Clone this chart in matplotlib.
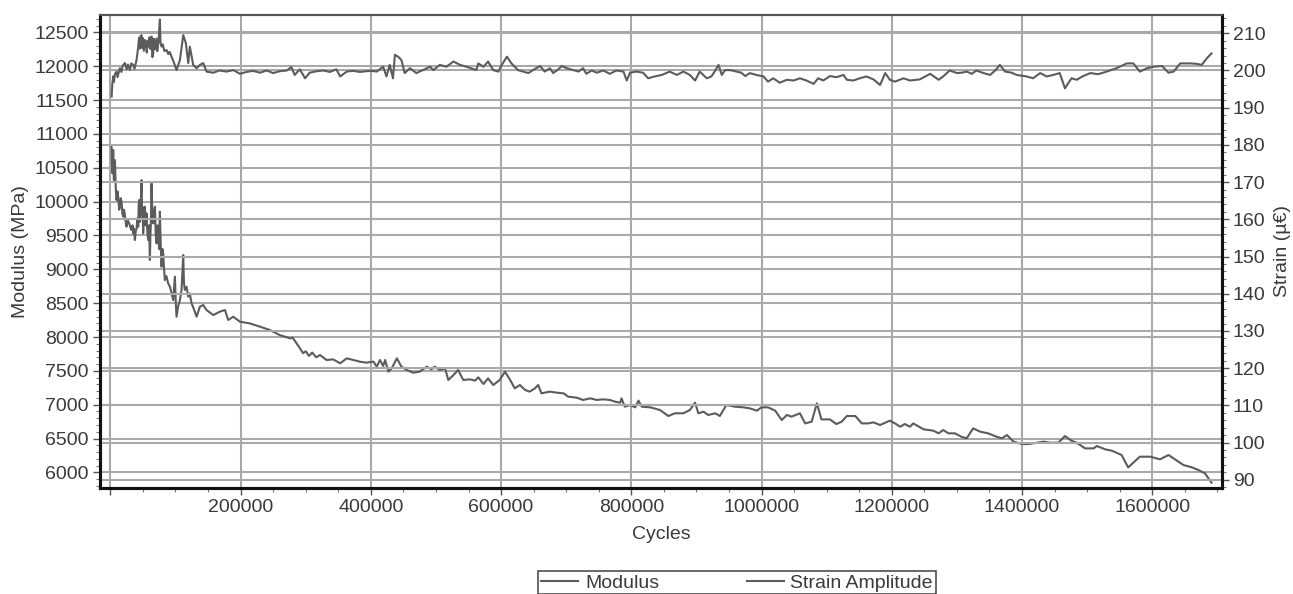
import matplotlib as mpl
mpl.use('Agg')

import matplotlib.pyplot as plt
from matplotlib.ticker import MultipleLocator, FuncFormatter

plt.rcParams['font.family'] = ['Liberation Sans', 'DejaVu Sans']

line_color = "#5c5c5c"
grid_color = "#a9a9a9"
text_color = "#3a3a3a"

# Strain amplitude (right axis)
strain_cycles = [
  2000, 3000, 4400, 5500, 7000, 9500, 11000, 14600, 17000, 19000,
  22300, 25000, 27000, 30000, 32000, 35100, 37000, 40200, 42800, 44000,
  45000, 46500, 47900, 49000, 50000, 51500, 53000, 54500, 56000, 57000,
  58100, 60000, 61500, 63200, 64500, 65800, 67000, 68500, 70900, 72000,
  74000, 76000, 77000, 78600, 80500, 83000, 86300, 89000, 91000, 94000,
  97000, 101600, 106800, 111900, 116000, 119600, 122100, 127200, 132400, 137500,
  142600, 147700,
  158000, 168000, 178000, 189000, 199000, 209000, 219000, 230000, 240000, 250000,
  260000, 271000, 278000, 283000, 291000, 299000, 306000, 317000, 327000, 337000,
  347000, 353000, 363000, 373000, 383000, 393000, 401000, 409000, 419000, 424000,
  429000, 434000, 437000, 442000, 447000, 452000, 460000, 470000, 480000, 491000,
  496000, 506000, 516000, 527000, 537000, 547000, 562000, 565000, 573000, 580000,
  588000, 596000, 601000, 609000, 616000, 626000, 634000, 642000, 649000, 660000,
  667000, 675000, 680000, 688000, 693000, 701000, 711000, 719000, 726000, 731000,
  739000, 747000, 757000, 767000, 777000, 788000, 793000, 798000, 808000, 818000,
  826000, 836000, 847000, 859000, 870000, 880000, 890000, 898000, 905000, 916000,
  923000, 928000, 934000, 939000, 944000, 952000, 962000, 969000, 975000, 982000,
  992000, 1003000, 1010000, 1018000, 1028000, 1039000, 1049000, 1059000, 1069000, 1080000,
  1087000, 1095000, 1105000, 1115000, 1126000, 1131000, 1141000, 1151000, 1161000, 1172000,
  1182000, 1190000, 1197000, 1205000, 1218000, 1228000, 1243000, 1259000, 1272000, 1279000,
  1289000, 1300000, 1307000, 1315000, 1323000, 1330000, 1341000, 1351000, 1359000, 1366000,
  1374000, 1384000, 1392000, 1407000, 1417000, 1428000, 1438000, 1448000, 1458000, 1466000,
  1476000, 1484000, 1494000, 1505000, 1517000, 1530000, 1545000, 1561000, 1571000, 1581000,
  1592000, 1602000, 1615000, 1625000, 1633000, 1643000, 1658000, 1668000, 1676000, 1684000,
  1691000]
strain = [
  193.0, 196.5, 198.4, 196.9, 199.0, 199.7, 198.2, 200.6, 199.6, 201.3,
  202.0, 200.3, 201.6, 200.1, 201.9, 201.5, 200.4, 202.8, 206.4, 208.8,
  205.9, 209.3, 209.5, 206.0, 208.7, 205.3, 208.2, 207.5, 204.8, 208.0,
  206.4, 208.9, 205.8, 209.1, 203.6, 204.6, 208.5, 205.7, 208.6, 205.2,
  207.8, 213.7, 207.5, 206.4, 207.0, 205.2, 205.5, 204.4, 205.0, 203.7,
  202.4, 200.1, 202.8, 209.5, 207.3, 202.0, 206.4, 201.5, 200.6, 201.5,
  202.0, 199.7,
  199.4, 200.0, 199.7, 200.1, 199.1, 199.6, 199.9, 199.4, 200.0, 199.3,
  199.8, 200.0, 200.9, 198.8, 200.3, 197.9, 199.4, 199.8, 200.0, 199.6,
  200.3, 198.4, 199.7, 199.9, 199.6, 199.8, 199.9, 199.7, 201.0, 198.4,
  201.5, 197.9, 204.2, 203.7, 202.8, 199.3, 200.6, 199.3, 200.1, 201.0,
  200.1, 201.5, 201.0, 202.4, 201.5, 201.0, 200.1, 201.9, 201.0, 202.4,
  200.1, 199.7, 201.5, 203.7, 201.9, 200.1, 199.7, 199.3, 200.1, 201.2,
  199.7, 200.6, 199.3, 200.3, 201.2, 200.6, 200.1, 199.7, 200.6, 199.1,
  200.0, 199.4, 200.0, 199.1, 200.0, 199.7, 197.3, 199.4, 199.7, 199.4,
  197.9, 198.4, 198.8, 199.7, 198.8, 199.7, 198.8, 197.3, 199.7, 197.9,
  198.4, 199.7, 201.5, 198.8, 200.1, 200.1, 199.7, 199.4, 198.5, 199.3,
  198.8, 198.4, 197.0, 197.9, 196.7, 197.5, 197.3, 197.9, 197.3, 196.4,
  197.9, 197.3, 198.5, 198.2, 198.8, 197.5, 197.3, 197.9, 198.4, 197.6,
  196.1, 199.3, 197.5, 197.0, 197.9, 197.3, 197.6, 199.1, 197.5, 198.4,
  200.0, 199.3, 199.4, 199.7, 199.1, 200.0, 199.3, 198.8, 200.0, 201.5,
  199.7, 199.4, 198.8, 198.4, 197.9, 199.3, 198.4, 198.8, 199.3, 195.2,
  197.9, 197.5, 198.5, 199.3, 199.0, 199.7, 200.6, 201.9, 201.9, 199.7,
  200.6, 201.0, 201.2, 199.4, 199.7, 201.9, 201.9, 201.8, 201.5, 203.3,
  204.6]

# Modulus (left axis)
modulus_cycles = [
  1800, 2500, 3300, 4400, 5400, 6200, 7000, 8400, 9500, 11000,
  12000, 13500, 14600, 16000, 17200, 18500, 19700, 21000, 22300, 23500,
  24800, 27000, 29000, 31000, 32500, 34000, 35000, 36300, 37600, 39000,
  40200, 41500, 42800, 43500, 44300, 45300, 46300, 47100, 47900, 48600,
  49400, 50400, 51700, 53000, 54200, 55500, 56800, 58100, 59400, 60700,
  61500, 62200, 63200, 64500, 65800, 67000, 68400, 69700, 71000, 72300,
  73500, 74800, 76000, 77600, 78600, 80000, 81200, 82500, 83700, 86000,
  88800, 91400, 94000, 96500, 99100, 100500, 101600, 104000, 106800, 109300,
  111900, 113000, 114400, 117000, 119600, 122000, 124700, 128000, 132400, 137500,
  142600, 147700, 158000, 168000, 176000, 181000,
  188700, 199000, 214000, 230000, 245000, 255000, 260000, 276000, 280000, 290000,
  296000, 300000, 305000, 310000, 316000, 322000, 332000, 342000, 353000, 363000,
  373000, 383000, 393000, 404000, 409000, 414000, 419000, 422000, 427000, 432000,
  440000, 447000, 455000, 465000, 475000, 486000, 493000, 498000, 506000, 514000,
  519000, 527000, 534000, 542000, 552000, 560000, 565000, 573000, 580000, 588000,
  598000, 606000, 614000, 621000, 629000, 637000, 644000, 652000, 657000, 662000,
  675000, 685000, 696000, 703000, 716000, 726000, 737000, 747000, 757000, 767000,
  775000, 783000, 785000, 790000, 798000, 806000, 811000, 816000, 829000, 844000,
  857000, 867000, 880000, 890000, 898000, 903000, 911000, 918000, 929000, 936000,
  946000, 959000, 972000, 982000, 993000, 1000000, 1010000, 1021000, 1031000, 1039000,
  1046000, 1059000, 1067000, 1077000, 1085000, 1092000, 1105000, 1115000, 1123000, 1131000,
  1144000, 1154000, 1164000, 1172000, 1182000, 1197000, 1205000, 1213000, 1220000, 1228000,
  1233000, 1249000, 1264000, 1272000, 1279000, 1287000, 1297000, 1307000, 1315000, 1325000,
  1336000, 1348000, 1361000, 1369000, 1377000, 1387000, 1400000, 1410000, 1423000, 1433000,
  1443000, 1456000, 1466000, 1476000, 1484000, 1497000, 1510000, 1515000, 1528000, 1538000,
  1545000, 1553000, 1563000, 1581000, 1597000, 1612000, 1625000, 1635000, 1648000, 1661000,
  1671000, 1681000, 1691000]
modulus = [
  10811, 10500, 10417, 10761, 10318, 10550, 10614, 10170, 10023, 10150,
  10072, 9880, 9924, 10050, 9998, 9820, 9777, 9880, 9801, 9700,
  9629, 9720, 9678, 9610, 9580, 9650, 9531, 9600, 9432, 9560,
  9604, 9750, 9629, 9950, 10023, 9700, 9777, 10100, 10318, 9850,
  9924, 9531, 9800, 9924, 9650, 9826, 9550, 9432, 9650, 9137,
  9500, 9678, 10269, 9800, 9678, 9850, 9924, 9500, 9383, 9650,
  9531, 9300, 9851, 9284, 9038, 9300, 9235, 9000, 8841, 8900,
  8792, 8743, 8650, 8546, 8891, 8500, 8300, 8450, 8546, 8694,
  9211, 8800, 8694, 8743, 8595, 8644, 8497, 8420, 8300, 8448,
  8472, 8398, 8324, 8374, 8398, 8251,
  8300, 8226, 8201, 8152, 8103, 8054, 8029, 7980, 7990, 7850,
  7760, 7790, 7720, 7770, 7700, 7734, 7660, 7670, 7611, 7685,
  7660, 7636, 7621, 7636, 7562, 7660, 7572, 7660, 7488, 7537,
  7685, 7562, 7513, 7473, 7488, 7562, 7522, 7562, 7513, 7537,
  7365, 7439, 7513, 7365, 7375, 7355, 7404, 7306, 7389, 7291,
  7365, 7488, 7365, 7242, 7291, 7217, 7193, 7242, 7291, 7168,
  7193, 7178, 7168, 7119, 7104, 7070, 7094, 7070, 7079, 7070,
  7045, 7030, 7094, 6971, 6996, 6961, 7060, 6971, 6961, 6922,
  6833, 6873, 6873, 6922, 7030, 6873, 6897, 6848, 6873, 6833,
  6996, 6971, 6961, 6946, 6912, 6961, 6961, 6912, 6774, 6848,
  6823, 6873, 6724, 6749, 7020, 6783, 6783, 6714, 6749, 6833,
  6833, 6724, 6724, 6739, 6700, 6764, 6724, 6675, 6714, 6675,
  6724, 6636, 6616, 6577, 6626, 6577, 6577, 6527, 6503, 6650,
  6601, 6577, 6527, 6503, 6552, 6454, 6419, 6419, 6439, 6454,
  6439, 6439, 6537, 6468, 6439, 6355, 6355, 6390, 6340, 6321,
  6291, 6257, 6074, 6232, 6232, 6193, 6257, 6193, 6109, 6074,
  6035, 5986, 5848]

fig = plt.figure(figsize=(12.93, 5.94), dpi=100)
ax = fig.add_axes([0.0773, 0.1785, 0.8677, 0.7962])
ax2 = ax.twinx()

l1, = ax.plot(modulus_cycles, modulus, color=line_color, linewidth=1.5, label="Modulus")
l2, = ax2.plot(strain_cycles, strain, color=line_color, linewidth=1.5, label="Strain Amplitude")

ax.set_xlim(-16000, 1707000)
ax.set_ylim(5770, 12756)
ax2.set_ylim(87.8, 214.9)

ax.xaxis.set_major_locator(MultipleLocator(200000))
ax.xaxis.set_minor_locator(MultipleLocator(50000))
ax.xaxis.set_major_formatter(FuncFormatter(lambda v, p: "" if v <= 0 else "%d" % v))
ax.yaxis.set_major_locator(MultipleLocator(500))
ax.yaxis.set_minor_locator(MultipleLocator(100))
ax2.yaxis.set_major_locator(MultipleLocator(10))
ax2.yaxis.set_minor_locator(MultipleLocator(2))

ax.grid(True, which='major', axis='both', color=grid_color, linewidth=1.5)
ax2.grid(True, which='major', axis='y', color=grid_color, linewidth=1.5)

for a in (ax, ax2):
  for side in ('left', 'right', 'bottom'):
    a.spines[side].set_linewidth(2.2)
    a.spines[side].set_color("#111111")
  a.spines['top'].set_linewidth(1.5)
  a.spines['top'].set_color("#555555")
  a.tick_params(axis='both', which='major', length=5, width=1, color="#555555",
                labelsize=14, labelcolor=text_color, pad=3)
  a.tick_params(axis='both', which='minor', length=3, width=0.8, color="#777777")

ax.set_xlabel("Cycles", fontsize=14, color=text_color, labelpad=7)
ax.set_ylabel("Modulus (MPa)", fontsize=14, color=text_color, labelpad=4)
ax2.set_ylabel("Strain (µ€)", fontsize=14, color=text_color, labelpad=6)

leg = fig.legend(handles=[l1, l2], loc='upper center', bbox_to_anchor=(0.57, 0.0387),
                 ncol=2, fontsize=14, frameon=True, fancybox=False,
                 handlelength=1.9, handletextpad=0.35, columnspacing=4.5,
                 borderpad=0.15, borderaxespad=0, labelcolor=text_color)
leg.get_frame().set_edgecolor("#222222")
leg.get_frame().set_linewidth(1.2)

plt.savefig("out.png", dpi=100)
plt.close()
